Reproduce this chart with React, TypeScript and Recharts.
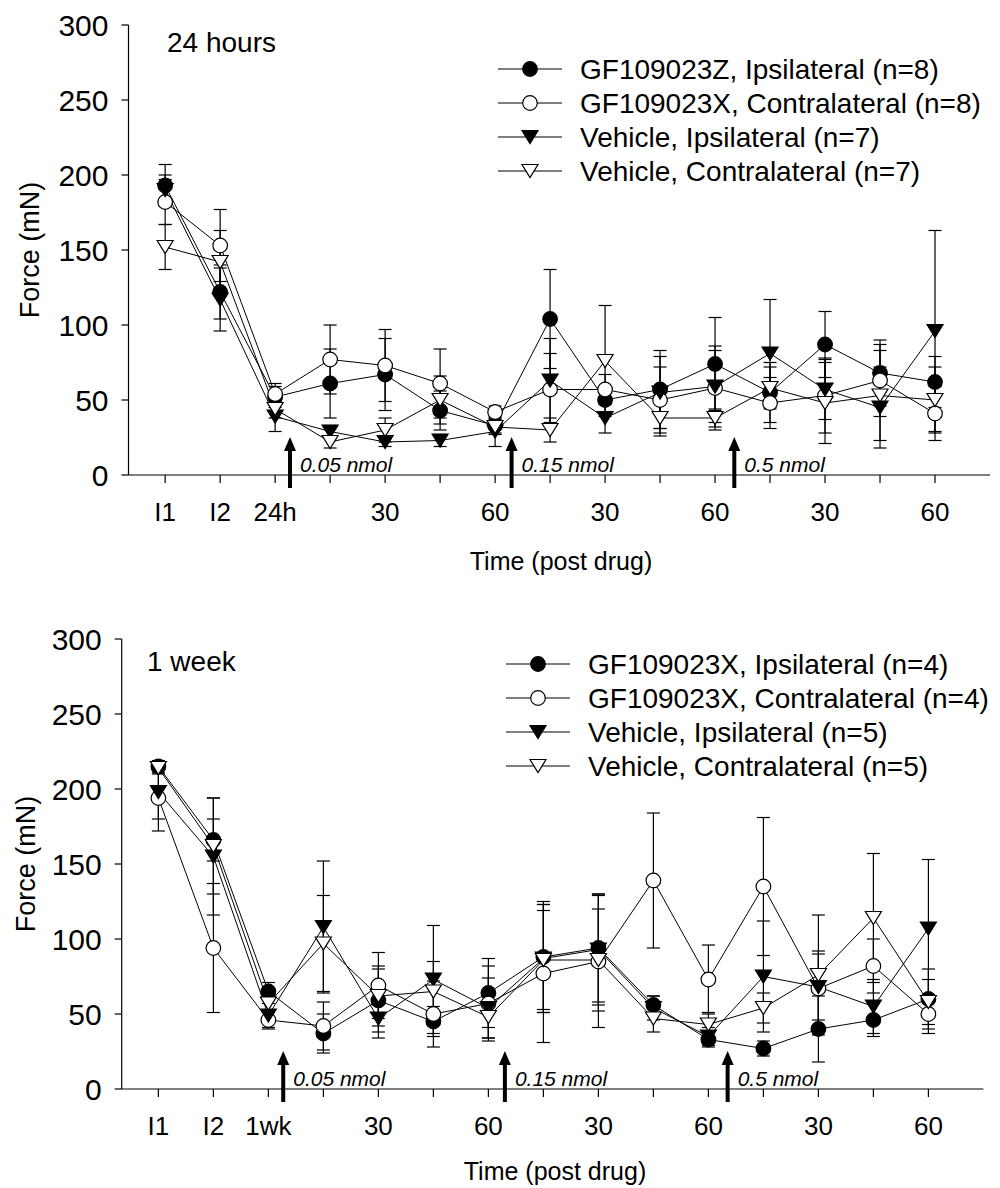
import React from "react"
import { LineChart, Line, XAxis, YAxis, ErrorBar, ReferenceDot } from "recharts"

const FONT = '"Liberation Sans", Arial, Helvetica, sans-serif'

// x positions: index of each time point
const xTicks = [1, 2, 3, 4, 5, 6, 7, 8, 9, 10, 11, 12, 13, 14, 15]
const dayLabels = ["I1", "I2", "24h", "", "30", "", "60", "", "30", "", "60", "", "30", "", "60"]
const weekLabels = ["I1", "I2", "1wk", "", "30", "", "60", "", "30", "", "60", "", "30", "", "60"]
const yTicks = [0, 50, 100, 150, 200, 250, 300]

// 24 hours panel
const dayGfIpsi = [193, 122, 52, 61, 67, 43, 33, 104, 50, 57, 74, 55, 87, 68, 62]
const dayGfIpsiErr = [14, 18, 7, 23, 24, 13, 5, 33, 8, 26, 31, 20, 22, 22, 17]
const dayGfContra = [182, 153, 54, 77, 73, 61, 42, 57, 57, 50, 58, 48, 53, 63, 41]
const dayGfContraErr = [15, 24, 7, 23, 24, 23, 4, 24, 10, 22, 28, 17, 25, 24, 18]
const dayVehIpsi = [190, 117, 39, 29, 22, 23, 29, 63, 38, 55, 59, 81, 57, 45, 96]
const dayVehIpsiErr = [10, 21, 10, 4, 3, 4, 10, 28, 10, 24, 24, 36, 20, 27, 67]
const dayVehContra = [152, 142, 44, 22, 30, 50, 32, 30, 76, 38, 38, 58, 48, 53, 50]
const dayVehContraErr = [15, 21, 6, 4, 8, 16, 5, 8, 37, 12, 6, 14, 27, 30, 22]

// 1 week panel
const weekGfIpsi = [215, 166, 65, 37, 59, 45, 64, 88, 94, 56, 33, 27, 40, 46, 60]
const weekGfIpsiErr = [4, 14, 6, 13, 21, 10, 23, 37, 36, 6, 5, 5, 22, 11, 20]
const weekGfContra = [194, 94, 46, 42, 69, 50, 57, 77, 85, 139, 73, 135, 67, 82, 50]
const weekGfContraErr = [22, 43, 6, 16, 22, 22, 25, 46, 44, 45, 23, 46, 25, 18, 13]
const weekVehIpsi = [198, 155, 49, 108, 47, 73, 54, 87, 93, 54, 35, 75, 68, 55, 107]
const weekVehIpsiErr = [18, 39, 8, 44, 13, 36, 20, 36, 37, 8, 6, 37, 22, 18, 46]
const weekVehContra = [214, 162, 57, 97, 62, 65, 48, 86, 86, 47, 43, 54, 76, 114, 58]
const weekVehContraErr = [4, 32, 6, 32, 20, 20, 14, 33, 34, 9, 8, 10, 40, 43, 15]

const dayLegend = [
  "GF109023Z, Ipsilateral (n=8)",
  "GF109023X, Contralateral (n=8)",
  "Vehicle, Ipsilateral (n=7)",
  "Vehicle, Contralateral (n=7)",
]
const weekLegend = [
  "GF109023X, Ipsilateral (n=4)",
  "GF109023X, Contralateral (n=4)",
  "Vehicle, Ipsilateral (n=5)",
  "Vehicle, Contralateral (n=5)",
]

// drug injections, placed between time points
const doseArrows = [
  { x: 3.27, dose: "0.05 nmol" },
  { x: 7.3, dose: "0.15 nmol" },
  { x: 11.35, dose: "0.5 nmol" },
]

const seriesKeys = ["gfIpsi", "gfContra", "vehIpsi", "vehContra"]
const markerKinds = ["circleFilled", "circleOpen", "triFilled", "triOpen"]

function buildRows(values: number[][], errors: number[][]) {
  return xTicks.map((x, i) => {
    const row: any = { x }
    seriesKeys.forEach((k, s) => {
      row[k] = values[s][i]
      row[k + "Err"] = errors[s][i]
    })
    return row
  })
}

const dayData = buildRows(
  [dayGfIpsi, dayGfContra, dayVehIpsi, dayVehContra],
  [dayGfIpsiErr, dayGfContraErr, dayVehIpsiErr, dayVehContraErr]
)
const weekData = buildRows(
  [weekGfIpsi, weekGfContra, weekVehIpsi, weekVehContra],
  [weekGfIpsiErr, weekGfContraErr, weekVehIpsiErr, weekVehContraErr]
)

function Marker({ cx, cy, kind }: { cx: number; cy: number; kind: string }) {
  if (cx == null || cy == null) return null
  const fill = kind === "circleFilled" || kind === "triFilled" ? "#000" : "#fff"
  if (kind.startsWith("circle")) {
    return <circle cx={cx} cy={cy} r={7.3} fill={fill} stroke="#000" strokeWidth={1.2} />
  }
  return (
    <polygon
      points={`${cx - 8},${cy - 6.5} ${cx + 8},${cy - 6.5} ${cx},${cy + 6.5}`}
      fill={fill}
      stroke="#000"
      strokeWidth={1.2}
    />
  )
}

const DoseArrow = ({ cx, cy, label }: any) => {
  if (cx == null || cy == null) return null
  return (
    <g>
      <rect x={cx - 2} y={cy - 26} width={4} height={39} fill="#000" />
      <polygon points={`${cx - 6},${cy - 24} ${cx + 6},${cy - 24} ${cx},${cy - 38}`} fill="#000" />
      <text x={cx + 10} y={cy - 3} fontSize={21} fontStyle="italic" fontFamily={FONT} fill="#000">
        {label}
      </text>
    </g>
  )
}

function Panel({ data, labels, margin }: any) {
  return (
    <LineChart width={1000} height={600} data={data} margin={margin}>
      <XAxis
        type="number"
        dataKey="x"
        domain={[1 / 3, 16]}
        allowDataOverflow
        ticks={xTicks}
        interval={0}
        tickFormatter={(v: number) => labels[v - 1]}
        axisLine={{ stroke: "#000", strokeWidth: 1.2 }}
        tickLine={{ stroke: "#000", strokeWidth: 1.2 }}
        tickSize={8}
        tickMargin={20}
        height={60}
        tick={{ fill: "#000", fontSize: 26, fontFamily: FONT }}
      />
      <YAxis
        type="number"
        domain={[0, 300]}
        allowDataOverflow
        ticks={yTicks}
        interval={0}
        width={80}
        axisLine={{ stroke: "#000", strokeWidth: 1.2 }}
        tickLine={{ stroke: "#000", strokeWidth: 1.2 }}
        tickSize={7}
        tickMargin={13}
        tick={{ fill: "#000", fontSize: 30, fontFamily: FONT }}
      />
      {seriesKeys.map((k, s) => (
        <Line
          key={k}
          type="linear"
          dataKey={k}
          stroke="#000"
          strokeWidth={1}
          isAnimationActive={false}
          activeDot={false}
          dot={(p: any) => <Marker key={`${k}-${p.index}`} cx={p.cx} cy={p.cy} kind={markerKinds[s]} />}
        >
          <ErrorBar dataKey={k + "Err"} width={6.5} stroke="#000" strokeWidth={1.2} direction="y" />
        </Line>
      ))}
      {doseArrows.map((a) => (
        <ReferenceDot
          key={a.dose}
          x={a.x}
          y={0}
          ifOverflow="visible"
          shape={(p: any) => <DoseArrow cx={p.cx} cy={p.cy} label={a.dose} />}
        />
      ))}
    </LineChart>
  )
}

function LegendBox({ items, top, left }: { items: string[]; top: number; left: number }) {
  return (
    <svg width={1000 - left} height={140} style={{ position: "absolute", top, left, overflow: "visible" }}>
      {items.map((label, i) => {
        const y = 13 + i * 34
        return (
          <g key={label}>
            <line x1={0} x2={64} y1={y} y2={y} stroke="#000" strokeWidth={1.2} />
            <Marker cx={32} cy={y} kind={markerKinds[i]} />
            <text x={82} y={y} dominantBaseline="central" fontSize={28} fontFamily={FONT} fill="#000">
              {label}
            </text>
          </g>
        )
      })}
    </svg>
  )
}

const textStyle: React.CSSProperties = {
  position: "absolute",
  fontFamily: FONT,
  color: "#000",
  whiteSpace: "nowrap",
  lineHeight: "32px",
}

export default function App() {
  return (
    <div style={{ position: "absolute", left: 0, top: 0, width: 1000, height: 1188, background: "#fff", overflow: "hidden" }}>
      <div style={{ position: "absolute", left: 0, top: 0 }}>
        <Panel data={dayData} labels={dayLabels} margin={{ top: 25, right: 10, bottom: 65, left: 48.5 }} />
      </div>
      <div style={{ position: "absolute", left: 0, top: 600 }}>
        <Panel data={weekData} labels={weekLabels} margin={{ top: 39, right: 16.6, bottom: 51, left: 41.7 }} />
      </div>

      <LegendBox items={dayLegend} top={56} left={498} />
      <LegendBox items={weekLegend} top={651} left={506} />

      <div style={{ ...textStyle, left: 167, top: 27, fontSize: 28 }}>24 hours</div>
      <div style={{ ...textStyle, left: 147, top: 646, fontSize: 28 }}>1 week</div>

      <div style={{ ...textStyle, left: 561, top: 545, fontSize: 25, transform: "translateX(-50%)" }}>
        Time (post drug)
      </div>
      <div style={{ ...textStyle, left: 555, top: 1155, fontSize: 25, transform: "translateX(-50%)" }}>
        Time (post drug)
      </div>

      <div
        style={{ ...textStyle, left: 30, top: 250, fontSize: 27, transform: "translate(-50%, -50%) rotate(-90deg)" }}
      >
        Force (mN)
      </div>
      <div
        style={{ ...textStyle, left: 26, top: 864, fontSize: 27, transform: "translate(-50%, -50%) rotate(-90deg)" }}
      >
        Force (mN)
      </div>
    </div>
  )
}
